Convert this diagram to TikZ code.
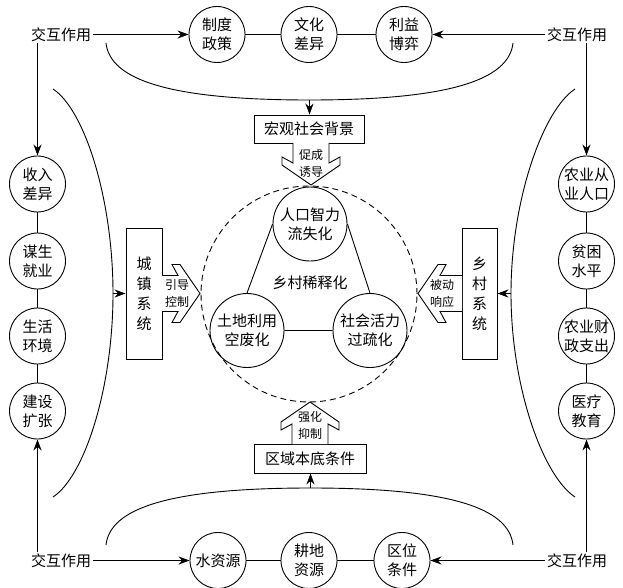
\documentclass[tikz,border=0pt]{standalone}
\usepackage{fontspec}
\setmainfont{Noto Sans CJK SC}
\usetikzlibrary{arrows.meta}
\newcommand\fatarr[5]{%
  \draw[fat, shift={(#1,#2)}, rotate=#3] (0,-18)--(#4,-18)--(#4-6,-29)--(#4+2,-29)--(#5,0)--(#4+2,29)--(#4-6,29)--(#4,18)--(0,18);}
\begin{document}
\begin{tikzpicture}[x=1pt,y=-1pt, line width=0.9pt,
  >={Stealth[length=11pt,width=8pt]},
  lbl/.style={inner sep=1.5pt, font=\fontsize{15}{19}\selectfont},
  circ/.style={draw, circle, minimum size=56pt, inner sep=0pt, align=center, font=\fontsize{15}{19}\selectfont},
  bigc/.style={circ, minimum size=74pt},
  boxn/.style={draw, inner sep=0pt, align=center, font=\fontsize{15}{20}\selectfont},
  small/.style={inner sep=0pt, align=center, font=\fontsize{12}{17}\selectfont},
  fat/.style={draw, line width=0.9pt, fill=white}]
\useasboundingbox (0,0) rectangle (623,588);

% top row
\node[lbl] (tl) at (61,34.5) {交互作用};
\node[lbl] (tr) at (577,34.5) {交互作用};
\node[circ] (a1) at (217,34.5) {制度\\政策};
\node[circ] (a2) at (309,34.5) {文化\\差异};
\node[circ] (a3) at (404,34.5) {利益\\博弈};
\draw[->] (tl) -- (a1);
\draw[->] (tr) -- (a3);
\draw (a1) -- (a2) (a2) -- (a3);

% bottom row
\node[lbl] (bl) at (61,560.5) {交互作用};
\node[lbl] (br) at (577,560.5) {交互作用};
\node[circ] (b1) at (218,560.5) {水资源};
\node[circ] (b2) at (309,560.5) {耕地\\资源};
\node[circ] (b3) at (402,560.5) {区位\\条件};
\draw[->] (bl) -- (b1);
\draw[->] (br) -- (b3);
\draw (b1) -- (b2) (b2) -- (b3);

% left column
\node[circ] (l1) at (37.5,184) {收入\\差异};
\node[circ] (l2) at (37.5,261) {谋生\\就业};
\node[circ] (l3) at (37.5,336) {生活\\环境};
\node[circ] (l4) at (37.5,411) {建设\\扩张};
\draw (l1) -- (l2) (l2) -- (l3) (l3) -- (l4);
\draw[->] (tl.south -| l1) -- (l1);
\draw[->] (bl.north -| l4) -- (l4);

% right column
\node[circ] (r1) at (586.5,184) {农业从\\业人口};
\node[circ] (r2) at (586.5,261) {贫困\\水平};
\node[circ] (r3) at (586.5,336) {农业财\\政支出};
\node[circ] (r4) at (586.5,411) {医疗\\教育};
\draw (r1) -- (r2) (r2) -- (r3) (r3) -- (r4);
\draw[->] (tr.south -| r1) -- (r1);
\draw[->] (br.north -| r4) -- (r4);

% boxes
\node[boxn, minimum width=110pt, minimum height=28pt] (mb) at (309,129) {宏观社会背景};
\node[boxn, minimum width=112pt, minimum height=29pt] (rb) at (310,458.5) {区域本底条件};
\node[boxn, minimum width=36pt, minimum height=131pt] (ub) at (144,293.5) {城\\镇\\系\\统};
\node[boxn, minimum width=35pt, minimum height=131pt] (vb) at (479.5,293.5) {乡\\村\\系\\统};

% curves
\coordinate (ts) at (106,43);
\coordinate (te) at (513,43);
\coordinate (tm) at (309.5,100);
\draw (ts) .. controls (110,80) and (170,100) .. (tm) .. controls (449,100) and (509,80) .. (te);
\draw[->] (tm) -- (tm |- mb.north);

\coordinate (bs) at (106,545);
\coordinate (be) at (513,545);
\coordinate (bm) at (310.5,488);
\draw (bs) .. controls (110,508) and (170,488) .. (bm) .. controls (450,488) and (509,508) .. (be);
\draw[->] (bm) -- (bm |- rb.south);

\coordinate (ls) at (53,89);
\coordinate (le) at (53,497);
\coordinate (lm) at (113,293.5);
\draw (ls) .. controls (85,110) and (113,200) .. (lm) .. controls (113,387) and (85,476) .. (le);
\draw[->] (lm) -- (lm -| ub.west);

\coordinate (rs) at (575,89);
\coordinate (re) at (575,497);
\coordinate (rm) at (511,293.5);
\draw (rs) .. controls (543,110) and (511,200) .. (rm) .. controls (511,387) and (543,476) .. (re);
\draw[->] (rm) -- (rm -| vb.east);

% dashed circle and inner circles
\node[draw, dashed, dash pattern=on 6pt off 4pt, circle, minimum size=216pt, inner sep=0pt] (dc) at (309,294) {};
\node[bigc] (p1) at (310,224) {人口智力\\流失化};
\node[bigc] (p2) at (247,330.5) {土地利用\\空废化};
\node[bigc] (p3) at (370,330.5) {社会活力\\过疏化};
\draw (p1.west) -- (p2.north) (p1.east) -- (p3.north) (p2.east) -- (p3.west);
\node[lbl] (xs) at (310,283) {乡村稀释化};

% fat arrows
\fatarr{311}{143}{-90}{20}{42}
\node[small] (f1) at (311,163.5) {促成\\诱导};
\fatarr{310}{444}{90}{20}{42}
\node[small] (f2) at (310,425.5) {强化\\抑制};
\fatarr{162}{293.5}{0}{16}{38}
\node[small] (f3) at (177,293.5) {引导\\控制};
\fatarr{462}{293.5}{180}{22}{44}
\node[small] (f4) at (442,293.5) {被动\\响应};
\end{tikzpicture}
\end{document}
